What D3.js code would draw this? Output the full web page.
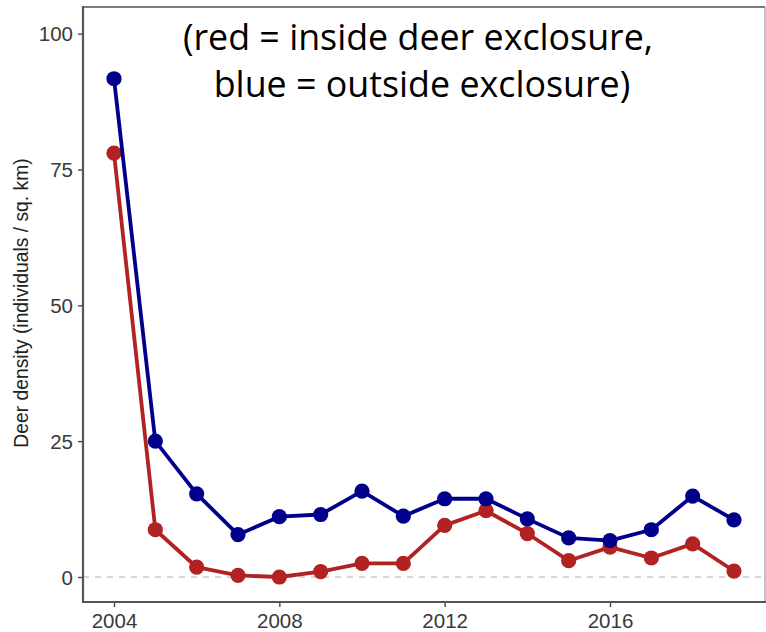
<!DOCTYPE html>
<html>
<head>
<meta charset="utf-8">
<script src="https://cdn.jsdelivr.net/npm/d3@7"></script>
<style>
  html, body { margin: 0; padding: 0; background: #fff; }
  svg { display: block; }
</style>
</head>
<body>
<svg id="chart" width="766" height="632"></svg>
<script>
// Survey years and deer density (individuals / sq. km)
const years = [2004, 2005, 2006, 2007, 2008, 2009, 2010, 2011, 2012, 2013, 2014, 2015, 2016, 2017, 2018, 2019];
const inside = [78.0, 8.7, 1.8, 0.3, 0.0, 1.0, 2.5, 2.5, 9.5, 12.2, 8.0, 3.0, 5.5, 3.5, 6.1, 1.1];
const outside = [91.7, 25.0, 15.3, 7.8, 11.1, 11.5, 15.8, 11.2, 14.4, 14.4, 10.7, 7.2, 6.7, 8.7, 14.9, 10.5];
const xTicks = [2004, 2008, 2012, 2016];
const yTicks = [0, 25, 50, 75, 100];
const titleLines = ["(red = inside deer exclosure,", "blue = outside exclosure)"];
const yLabel = "Deer density (individuals / sq. km)";

const svg = d3.select("#chart");
const panel = { left: 83, top: 7, right: 765, bottom: 602 };

const x = d3.scaleLinear().domain([2003.25, 2019.75]).range([panel.left, panel.right]);
const y = d3.scaleLinear().domain([-4.6, 104.9]).range([panel.bottom, panel.top]);

// zero reference line
svg.append("line")
  .attr("x1", panel.left).attr("x2", panel.right)
  .attr("y1", y(0)).attr("y2", y(0))
  .attr("stroke", "#c8c8c8").attr("stroke-width", 1.5)
  .attr("stroke-dasharray", "6,6");

// panel border (top / right lighter)
svg.append("line")
  .attr("x1", panel.left).attr("x2", panel.right)
  .attr("y1", panel.top).attr("y2", panel.top)
  .attr("stroke", "#7a7a7a").attr("stroke-width", 2);
svg.append("line")
  .attr("x1", panel.right).attr("x2", panel.right)
  .attr("y1", panel.top).attr("y2", panel.bottom)
  .attr("stroke", "#9a9a9a").attr("stroke-width", 1.2);

// axes
const xAxis = d3.axisBottom(x).tickValues(xTicks).tickFormat(d3.format("d")).tickSize(5).tickPadding(4);
const yAxis = d3.axisLeft(y).tickValues(yTicks).tickSize(5).tickPadding(5);

const gx = svg.append("g").attr("transform", `translate(0,${panel.bottom})`).call(xAxis);
const gy = svg.append("g").attr("transform", `translate(${panel.left},0)`).call(yAxis);

[gx, gy].forEach(g => {
  g.select(".domain").remove();
  g.selectAll(".tick line").attr("stroke", "#444").attr("stroke-width", 1.4);
  g.selectAll(".tick text")
    .attr("fill", "#3a3a3a")
    .style("font-family", "'Liberation Sans', Arial, sans-serif")
    .style("font-size", "20.5px");
});
gx.selectAll(".tick text").attr("y", 0).attr("dy", null).attr("transform", "translate(0,26)");
gy.selectAll(".tick text").attr("dy", "0.35em");

// axis lines
svg.append("line")
  .attr("x1", panel.left).attr("x2", panel.left)
  .attr("y1", panel.top - 1).attr("y2", panel.bottom + 1)
  .attr("stroke", "#555").attr("stroke-width", 2.2);
svg.append("line")
  .attr("x1", panel.left - 1).attr("x2", panel.right + 1)
  .attr("y1", panel.bottom).attr("y2", panel.bottom)
  .attr("stroke", "#555").attr("stroke-width", 2.2);

// y axis title
svg.append("text")
  .attr("transform", `translate(28,303) rotate(-90)`)
  .attr("text-anchor", "middle")
  .attr("fill", "#222")
  .style("font-family", "'Liberation Sans', Arial, sans-serif")
  .style("font-size", "19.3px")
  .text(yLabel);

// series
const series = [
  { values: inside, color: "#b22222" },
  { values: outside, color: "#00008b" }
];
const line = d3.line().x(d => x(d[0])).y(d => y(d[1]));

series.forEach(s => {
  const pts = years.map((yr, i) => [yr, s.values[i]]);
  svg.append("path")
    .datum(pts)
    .attr("d", line)
    .attr("fill", "none")
    .attr("stroke", s.color)
    .attr("stroke-width", 3.8)
    .attr("stroke-linejoin", "round");
  svg.append("g").selectAll("circle")
    .data(pts)
    .join("circle")
    .attr("cx", d => x(d[0]))
    .attr("cy", d => y(d[1]))
    .attr("r", 7.6)
    .attr("fill", s.color);
});

// annotation
const ann = svg.append("text")
  .attr("text-anchor", "middle")
  .attr("fill", "#000")
  .style("font-family", "'Open Sans', 'Noto Sans', sans-serif")
  .style("font-size", "35.8px");
ann.append("tspan").attr("x", 418).attr("y", 50).text(titleLines[0]);
ann.append("tspan").attr("x", 422).attr("y", 97).text(titleLines[1]);
</script>
</body>
</html>
